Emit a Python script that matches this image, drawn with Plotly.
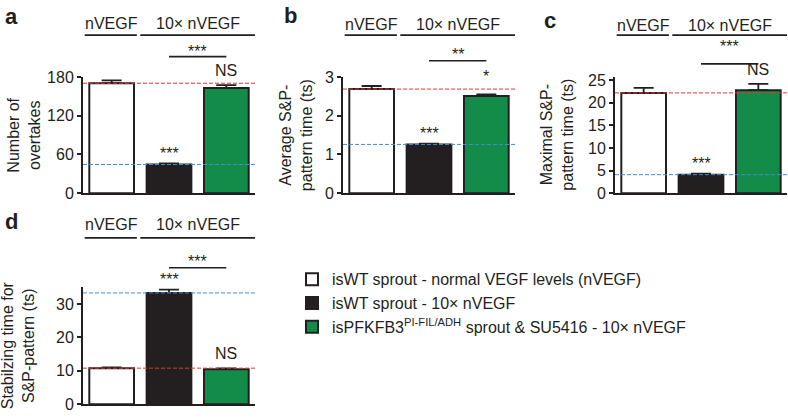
import plotly.graph_objects as go

# ---------------- data ----------------
groups = [
    "isWT sprout - normal VEGF levels (nVEGF)",
    "isWT sprout - 10× nVEGF",
    "isPFKFB3<sup>PI-FIL/ADH</sup> sprout & SU5416 - 10× nVEGF",
]
header_labels = ["nVEGF", "10× nVEGF"]
panel_labels = ["a", "b", "c", "d"]
y_titles = [
    "Number of<br>overtakes",
    "Average S&P-<br>pattern time (ts)",
    "Maximal S&P-<br>pattern time (ts)",
    "Stabilzing time for<br>S&P-pattern (ts)",
]
overtakes_mean = [170.5, 44.5, 163.0]
overtakes_err = [4.5, 1.5, 4.5]
avg_time_mean = [2.69, 1.26, 2.51]
avg_time_err = [0.08, 0.02, 0.04]
max_time_mean = [22.2, 4.1, 22.8]
max_time_err = [1.1, 0.2, 1.4]
stab_time_mean = [10.8, 33.3, 10.5]
stab_time_err = [0.25, 1.0, 0.2]
sig_vs_control = [["", "***", "NS"], ["", "***", "*"], ["", "***", "NS"], ["", "***", "NS"]]
sig_between = ["***", "**", "***", "***"]
ytick_vals = [[0, 60, 120, 180], [0, 1, 2, 3], [0, 5, 10, 15, 20, 25], [0, 10, 20, 30]]
y_ranges = [[0, 180], [0, 3], [0, 25.7], [0, 35]]

means = [overtakes_mean, avg_time_mean, max_time_mean, stab_time_mean]
errs = [overtakes_err, avg_time_err, max_time_err, stab_time_err]

# ---------------- style ----------------
W, H = 788, 420
INK = "#231f20"
FILL = ["#ffffff", "#231f20", "#138c4a"]
RED = "#e5372c"
BLUE = "#3f8fd8"
FONT = "Liberation Sans, Arial, Helvetica, sans-serif"

def px_x(v):
    return v / W

def px_y(v):
    return 1 - v / H

# panel geometry in pixels: (x_left, x_right, y_top, y_bottom)
geom = [(83, 255, 72, 193), (343, 515, 72, 193), (615, 787, 72, 193), (83, 255, 291, 413)]
# header positions (pixel y): text, underline, stars text, stars line
hdr = [(16.5, 28.3, 41, 50.7), (17.5, 28.3, 43.5, 55), (18, 28.3, 36, 58.3), (226, 239.5, 260, 270.7)]
label_pos = [(3, 9), (282, 8), (542, 13), (3, 222)]
title_x = [24.5, 296, 557.5, 17.5]
above_shift = {"***": 6, "**": 6, "*": 14, "NS": 10, "": 0}

fig = go.Figure()
for p in range(4):
    sfx = "" if p == 0 else str(p + 1)
    xa, ya = "x" + sfx, "y" + sfx
    for i in range(3):
        fig.add_trace(go.Bar(
            x=[i], y=[means[p][i]], width=0.78,
            marker=dict(color=FILL[i], line=dict(color=INK, width=2)),
            error_y=dict(type="data", symmetric=False, array=[errs[p][i]], arrayminus=[0],
                         color=INK, thickness=1.8, width=10),
            name=groups[i], legendgroup=str(i), showlegend=(p == 0),
            xaxis=xa, yaxis=ya, hoverinfo="skip",
        ))
    x0, x1, yt, yb = geom[p]
    fig.update_layout(**{
        "xaxis" + sfx: dict(domain=[px_x(x0), px_x(x1)], anchor=ya, range=[-0.5, 2.5],
                            showline=True, linewidth=2, linecolor=INK, showticklabels=False,
                            ticks="", showgrid=False, zeroline=False, fixedrange=True),
        "yaxis" + sfx: dict(domain=[px_y(yb), px_y(yt)], anchor=xa, range=y_ranges[p],
                            tickvals=ytick_vals[p], ticks="outside", ticklen=4, tickwidth=1.8,
                            tickcolor=INK, showline=True, linewidth=2, linecolor=INK,
                            showgrid=False, zeroline=False, fixedrange=True,
                            tickfont=dict(size=16, color=INK, family=FONT)),
    })
    # reference lines at control (nVEGF) and 10x nVEGF means
    for val, col in ((means[p][0], RED), (means[p][1], BLUE)):
        fig.add_shape(type="line", xref=xa + " domain", yref=ya, x0=0, x1=1, y0=val, y1=val,
                      line=dict(color=col, width=1, dash="4px,2px"))
    # headers
    ht, hl, st, sl = hdr[p]
    fig.add_annotation(x=0, y=px_y(ht), xref=xa, yref="paper", text=header_labels[0],
                       showarrow=False, font=dict(size=16, color=INK, family=FONT), yanchor="middle")
    fig.add_annotation(x=1.5, y=px_y(ht), xref=xa, yref="paper", text=header_labels[1],
                       showarrow=False, font=dict(size=16, color=INK, family=FONT), yanchor="middle")
    fig.add_shape(type="line", xref=xa, yref="paper", x0=-0.47, x1=0.44, y0=px_y(hl), y1=px_y(hl),
                  line=dict(color=INK, width=1.7))
    fig.add_shape(type="line", xref=xa, yref="paper", x0=0.5, x1=2.5, y0=px_y(hl), y1=px_y(hl),
                  line=dict(color=INK, width=1.7))
    fig.add_annotation(x=1.5, y=px_y(st + 4.5), xref=xa, yref="paper", text=sig_between[p],
                       showarrow=False, font=dict(size=16, color=INK, family=FONT), yanchor="middle")
    fig.add_shape(type="line", xref=xa, yref="paper", x0=1, x1=2, y0=px_y(sl), y1=px_y(sl),
                  line=dict(color=INK, width=1.7))
    # significance vs control above bars
    for i in range(3):
        s = sig_vs_control[p][i]
        if s:
            fig.add_annotation(x=i, y=means[p][i] + errs[p][i], xref=xa, yref=ya, text=s,
                               showarrow=False, yanchor="bottom", yshift=above_shift[s] - 6,
                               font=dict(size=16, color=INK, family=FONT))
    # panel label
    lx, ly = label_pos[p]
    fig.add_annotation(x=px_x(lx), y=px_y(ly), xref="paper", yref="paper", text="<b>%s</b>" % panel_labels[p],
                       showarrow=False, xanchor="left", yanchor="middle",
                       font=dict(size=22, color=INK, family=FONT))
    # y-axis title
    fig.add_annotation(x=px_x(title_x[p]), y=px_y((yt + yb) / 2), xref="paper", yref="paper",
                       text=y_titles[p], textangle=-90, showarrow=False,
                       xanchor="center", yanchor="middle",
                       font=dict(size=16, color=INK, family=FONT))

fig.update_layout(
    width=W, height=H, margin=dict(l=0, r=0, t=0, b=0),
    paper_bgcolor="white", plot_bgcolor="white", barmode="overlay",
    font=dict(family=FONT, size=16, color=INK),
    legend=dict(x=px_x(292), y=px_y(265), xanchor="left", yanchor="top",
                bgcolor="rgba(0,0,0,0)", font=dict(size=16, color=INK, family=FONT),
                tracegroupgap=0, itemwidth=30),
)

fig.write_html("out.html", config={"displayModeBar": False},
               post_script="document.body.style.margin='0';")
